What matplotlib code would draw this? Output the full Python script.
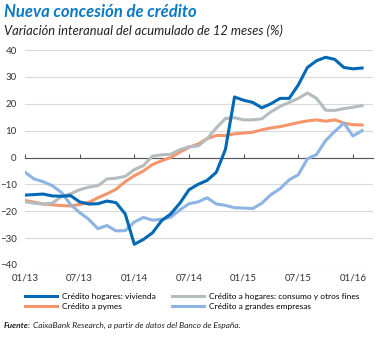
import matplotlib.pyplot as plt
import numpy as np

# monthly data, 01/13 .. 02/16
months = np.arange(38)
tick_pos = [0, 6, 12, 18, 24, 30, 36]
tick_labels = ["01/13", "07/13", "01/14", "07/14", "01/15", "07/15", "01/16"]

vivienda = [-14, -13.8, -13.6, -14.3, -14.4, -14.2, -16.5, -17.3, -17.2, -16.2,
            -16.8, -21, -32.3, -30.5, -28, -23.5, -21, -17, -12, -10,
            -8.5, -5.5, 3, 22.5, 21.3, 20.5, 18.5, 20, 22, 22,
            27, 33.5, 36, 37.3, 36.5, 33.5, 33, 33.3]
consumo = [-16.5, -17, -17.3, -17, -14.5, -13.5, -12, -11, -10.5, -8,
           -7.7, -7, -4.5, -3, 0.5, 1, 1.2, 2.9, 4, 4.3,
           7, 11, 14.5, 14.8, 14, 14, 14.4, 17, 19, 20.5,
           22, 24, 22, 17.6, 17.5, 18.2, 18.7, 19.3]
pymes = [-16, -16.6, -17.3, -17.6, -17.9, -18, -17.5, -16.7, -15, -13.5,
         -11.8, -9, -6.8, -5, -2.6, -1.2, 0, 2, 3.8, 5,
         7, 8.2, 8.2, 8.8, 9.1, 9.4, 10.3, 11, 11.5, 12.2,
         13, 13.6, 14, 13.5, 14, 12.8, 12.2, 12.1]
grandes = [-5.5, -8, -9, -10.5, -13, -17.5, -20.5, -23, -26.5, -25.3,
           -27.3, -27.2, -24, -22.3, -23.3, -23, -22.2, -19.5, -17.2, -16.5,
           -15, -17.3, -17.8, -18.7, -18.8, -19, -17, -13.8, -11.6, -8.3,
           -6.4, -0.5, 1.1, 6.3, 9.7, 12.8, 8, 10]

c_viv = "#0068b4"
c_con = "#b4bcbf"
c_pym = "#f4956a"
c_gra = "#8db4e3"

plt.rcParams["font.family"] = ["Lato", "DejaVu Sans"]

fig = plt.figure(figsize=(3.77, 3.38), dpi=100)
ax = fig.add_axes([25 / 377, 1 - 265 / 338, 348 / 377, 215 / 338])

l_pym, = ax.plot(months, pymes, color=c_pym, lw=2.2, label="Crédito a pymes", zorder=3)
l_con, = ax.plot(months, consumo, color=c_con, lw=2.2, label="Crédito a hogares: consumo y otros fines", zorder=3)
l_gra, = ax.plot(months, grandes, color=c_gra, lw=2.2, label="Crédito a grandes empresas", zorder=3)
l_viv, = ax.plot(months, vivienda, color=c_viv, lw=2.2, label="Crédito hogares: vivienda", zorder=4)

ax.set_xlim(0, 38.2)
ax.set_ylim(-40, 40)
ax.set_yticks(np.arange(-40, 41, 10))
ax.grid(axis="y", color="#d9d9d9", lw=0.8)
ax.set_axisbelow(True)
for s in ["top", "right", "left"]:
    ax.spines[s].set_visible(False)
ax.spines["bottom"].set_position(("data", 0))
ax.spines["bottom"].set_color("#555555")
ax.spines["bottom"].set_linewidth(0.8)
ax.set_xticks(tick_pos)
ax.tick_params(axis="x", direction="in", length=3, color="#555555", labelbottom=False)
ax.tick_params(axis="y", length=0, labelsize=7, labelcolor="#333333", pad=6)

sec = ax.secondary_xaxis("bottom")
sec.set_xticks(tick_pos, tick_labels)
sec.tick_params(length=0, labelsize=7, labelcolor="#333333", pad=6)
sec.spines["bottom"].set_visible(False)

fig.legend(handles=[l_viv, l_pym, l_con, l_gra], ncol=2, loc="upper left",
           bbox_to_anchor=(25 / 377, 1 - 293 / 338), frameon=False, fontsize=6,
           handlelength=3.8, handletextpad=0.6, columnspacing=2.0,
           labelspacing=0.4, borderpad=0, borderaxespad=0)

fig.text(4 / 377, 1 - 12 / 338, "Nueva concesión de crédito", fontsize=12,
         fontweight="bold", fontstyle="italic", color="#0a78c2", va="center")
fig.text(4 / 377, 1 - 31 / 338, "Variación interanual del acumulado de 12 meses (%)",
         fontsize=9.3, fontstyle="italic", color="#222222", va="center")
t = fig.text(4 / 377, 1 - 325 / 338, "Fuente:", fontsize=6, fontweight="bold",
             fontstyle="italic", color="#222222", va="center")
fig.canvas.draw()
bb = t.get_window_extent()
fig.text(bb.x1 / fig.bbox.width + 0.004, 1 - 325 / 338,
         "CaixaBank Research, a partir de datos del Banco de España.",
         fontsize=6, fontstyle="italic", color="#222222", va="center")

fig.savefig("out.png", dpi=100)
